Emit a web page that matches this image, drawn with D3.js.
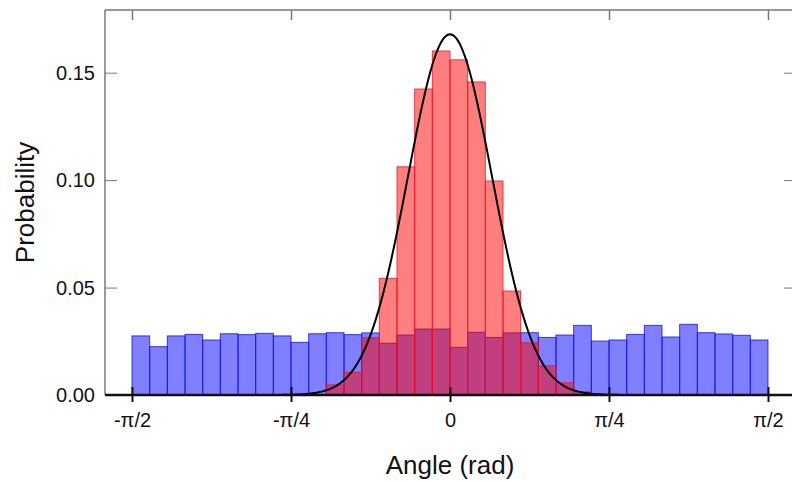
<!DOCTYPE html>
<html>
<head>
<meta charset="utf-8">
<script src="https://cdn.jsdelivr.net/npm/d3@7"></script>
<style>
  html, body { margin: 0; padding: 0; background: #fff; }
  svg { display: block; font-family: "Liberation Sans", Arial, sans-serif; }
</style>
</head>
<body>
<svg id="chart" width="792" height="482"></svg>
<script>
// ---- data ----
const binCount = 36;                 // bins of width pi/36 spanning [-pi/2, pi/2]
const blueValues = [
  0.0275, 0.0225, 0.0275, 0.0282, 0.0256, 0.0285, 0.0281, 0.0287, 0.0275,
  0.0245, 0.0285, 0.0290, 0.0281, 0.0289, 0.0241, 0.0279, 0.0307, 0.0307,
  0.0222, 0.0292, 0.0268, 0.0289, 0.0290, 0.0268, 0.0279, 0.0324, 0.0251,
  0.0256, 0.0282, 0.0324, 0.0270, 0.0329, 0.0290, 0.0284, 0.0278, 0.0256
];
const redValues = [
  0, 0, 0, 0, 0, 0, 0, 0, 0,
  0, 0, 0.0047, 0.0106, 0.0267, 0.0543, 0.1062, 0.1424, 0.1601,
  0.1560, 0.1457, 0.0996, 0.0484, 0.0243, 0.0136, 0.0057, 0.0015, 0,
  0, 0, 0, 0, 0, 0, 0, 0, 0
];
// Gaussian fit drawn over the red histogram
const fitMean = 0;
const fitSigma = 0.2074;
const xTickValues = [-Math.PI / 2, -Math.PI / 4, 0, Math.PI / 4, Math.PI / 2];
const xTickLabels = ["-\u03C0/2", "-\u03C0/4", "0", "\u03C0/4", "\u03C0/2"];
const yTickValues = [0, 0.05, 0.10, 0.15];
const yTickLabels = ["0.00", "0.05", "0.10", "0.15"];

// ---- layout ----
const svg = d3.select("#chart");
const frame = { left: 105, right: 796, top: 10, bottom: 395 };

const x = d3.scaleLinear().domain([-Math.PI / 2, Math.PI / 2]).range([132, 768]);
const y = d3.scaleLinear().domain([0, 0.15]).range([frame.bottom, 72.7]);

const binW = Math.PI / binCount;
const bins = d3.range(binCount).map(i => ({
  x0: -Math.PI / 2 + i * binW,
  x1: -Math.PI / 2 + (i + 1) * binW,
  blue: blueValues[i],
  red: redValues[i]
}));

// blue histogram
svg.append("g").selectAll("rect").data(bins).join("rect")
  .attr("x", d => x(d.x0))
  .attr("width", d => x(d.x1) - x(d.x0))
  .attr("y", d => y(d.blue))
  .attr("height", d => y(0) - y(d.blue))
  .attr("fill", "rgba(0,0,255,0.5)")
  .attr("stroke", "rgba(20,20,230,0.8)")
  .attr("stroke-width", 1);

// red histogram (overlaid)
svg.append("g").selectAll("rect").data(bins.filter(d => d.red > 0)).join("rect")
  .attr("x", d => x(d.x0))
  .attr("width", d => x(d.x1) - x(d.x0))
  .attr("y", d => y(d.red))
  .attr("height", d => y(0) - y(d.red))
  .attr("fill", "rgba(255,0,0,0.5)")
  .attr("stroke", "rgba(235,20,40,0.8)")
  .attr("stroke-width", 1);

// fitted curve: expected probability per bin under a normal fit
const curveXs = d3.range(0, 601).map(i => -Math.PI / 2 + i * Math.PI / 600);
const fit = t => binW / (fitSigma * Math.sqrt(2 * Math.PI)) *
  Math.exp(-0.5 * Math.pow((t - fitMean) / fitSigma, 2));
svg.append("path")
  .datum(curveXs)
  .attr("fill", "none")
  .attr("stroke", "#000")
  .attr("stroke-width", 2)
  .attr("d", d3.line().x(t => x(t)).y(t => y(fit(t))));

// ---- frame / axes ----
const gray = "#777";
// left axis
const yAxisLeft = d3.axisRight(y).tickValues(yTickValues).tickSize(12).tickFormat("");
const gl = svg.append("g").attr("transform", `translate(${frame.left},0)`).call(yAxisLeft);
gl.select(".domain").remove();
gl.selectAll(".tick line").attr("stroke", gray).attr("stroke-width", 1);
gl.selectAll(".tick").filter(d => d === 0).remove();
svg.append("line").attr("x1", frame.left).attr("x2", frame.left)
  .attr("y1", frame.top).attr("y2", frame.bottom).attr("stroke", gray).attr("stroke-width", 1.5);

// right axis
const yAxisRight = d3.axisLeft(y).tickValues(yTickValues).tickSize(12).tickFormat("");
const gr = svg.append("g").attr("transform", `translate(${frame.right},0)`).call(yAxisRight);
gr.select(".domain").remove();
gr.selectAll(".tick line").attr("stroke", gray).attr("stroke-width", 1);
gr.selectAll(".tick").filter(d => d === 0).remove();

// top axis
const xAxisTop = d3.axisBottom(x).tickValues(xTickValues).tickSize(10).tickFormat("");
const gt = svg.append("g").attr("transform", `translate(0,${frame.top})`).call(xAxisTop);
gt.select(".domain").remove();
gt.selectAll(".tick line").attr("stroke", gray).attr("stroke-width", 1.5);
svg.append("line").attr("x1", frame.left).attr("x2", 792)
  .attr("y1", frame.top).attr("y2", frame.top).attr("stroke", gray).attr("stroke-width", 1.5);

// y tick labels
svg.append("g").selectAll("text").data(yTickValues).join("text")
  .attr("x", 95)
  .attr("y", d => y(d))
  .attr("dy", "0.36em")
  .attr("text-anchor", "end")
  .attr("font-size", 20)
  .attr("fill", "#111")
  .text((d, i) => yTickLabels[i]);

// bottom axis
svg.append("line").attr("x1", frame.left).attr("x2", 792)
  .attr("y1", frame.bottom).attr("y2", frame.bottom).attr("stroke", "#111").attr("stroke-width", 2.5);
const xAxisBottom = d3.axisBottom(x).tickValues(xTickValues).tickSize(7)
  .tickFormat((d, i) => xTickLabels[i]);
const gb = svg.append("g").attr("transform", `translate(0,${frame.bottom})`).call(xAxisBottom);
gb.select(".domain").remove();
gb.selectAll(".tick line").attr("stroke", "#111").attr("stroke-width", 2).attr("y1", -8);
gb.selectAll(".tick text").attr("font-size", 20).attr("fill", "#111")
  .attr("y", 18).attr("font-family", "'Liberation Sans', Arial, sans-serif");

// axis titles
svg.append("text")
  .attr("x", x(0)).attr("y", 474)
  .attr("text-anchor", "middle")
  .attr("font-size", 26)
  .attr("fill", "#111")
  .text("Angle (rad)");
svg.append("text")
  .attr("transform", `translate(34,${(frame.top + frame.bottom) / 2}) rotate(-90)`)
  .attr("text-anchor", "middle")
  .attr("font-size", 26)
  .attr("fill", "#111")
  .text("Probability");
</script>
</body>
</html>
